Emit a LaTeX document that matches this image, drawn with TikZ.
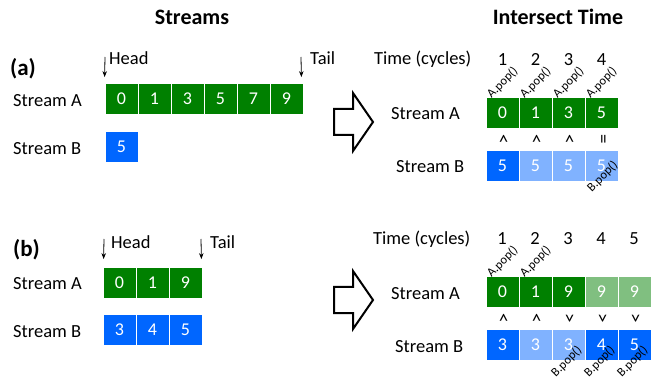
\documentclass[tikz,border=0pt]{standalone}
\usepackage{fontspec}
\setmainfont{Carlito}
\usetikzlibrary{arrows.meta,calc}
\definecolor{sgreen}{RGB}{0,128,0}
\definecolor{sblue}{RGB}{0,102,255}
\tikzset{
  cell/.style={rectangle,draw=white,line width=0.8pt,minimum width=33pt,minimum height=31pt,inner sep=0pt,text=white,font=\fontsize{18}{20}\selectfont},
  acell/.style={cell,fill=sgreen},
  afade/.style={cell,fill=sgreen!50},
  bcell/.style={cell,fill=sblue},
  bfade/.style={cell,fill=sblue!50},
  lbl/.style={inner sep=0pt,font=\fontsize{18.5}{22}\selectfont},
  ttl/.style={inner sep=0pt,font=\bfseries\fontsize{22}{26}\selectfont},
  part/.style={inner sep=0pt,font=\bfseries\fontsize{23}{27}\selectfont},
  popl/.style={rotate=45,inner sep=0pt,font=\fontsize{12.5}{14}\selectfont},
  cmp/.style={rotate=-90,inner sep=0pt,font=\fontsize{19}{20}\selectfont},
  ptr/.style={-{Stealth[length=6pt,width=4.5pt]},line width=0.8pt},
  bigarrow/.style={line width=2pt,fill=white,line join=miter},
}

\begin{document}
\begin{tikzpicture}[x=1pt,y=-1pt]
\useasboundingbox (0,0) rectangle (653,379);
%%%%% titles %%%%%
\node[ttl,anchor=base] (tstreams) at (192,25) {Streams};
\node[ttl,anchor=base] (tinter) at (558,25) {Intersect Time};

%%%%% (a) streams %%%%%
\node[part,anchor=base west] (pa) at (10,76) {(a)};
\node[lbl,anchor=base west] (sla) at (13,107) {Stream A};
\node[lbl,anchor=base west] (slb) at (13,155) {Stream B};
\foreach \v [count=\i] in {0,1,3,5,7,9}
  \node[acell] (la\i) at (88.5+33*\i,98.5) {\v};
\node[bcell] (lb1) at (121.5,146.5) {5};
\node[lbl,anchor=base west] (hda) at (109,65) {Head};
\node[lbl,anchor=base west] (tla) at (310,65) {Tail};
\coordinate (hdpa) at (105,57);
\coordinate (tlpa) at (301,57);
\draw[ptr] (hdpa) -- ($(la1.north west)+(0,-5.5)$);
\draw[ptr] (tlpa) -- ($(la6.north east)+(-2,-5.5)$);

%%%%% (a) intersect %%%%%
\node[lbl,anchor=base west] (tma) at (374,65) {Time (cycles)};
\node[lbl,anchor=base west] (sra) at (391,120) {Stream A};
\node[lbl,anchor=base west] (srb) at (396,173) {Stream B};
\foreach \v [count=\i] in {0,1,3,5}
  \node[acell] (ra\i) at (469.5+33*\i,112.5) {\v};
\node[bcell] (rb1) at (502.5,165.5) {5};
\foreach \i in {2,3,4}
  \node[bfade] (rb\i) at (469.5+33*\i,165.5) {5};
\foreach \i in {1,...,4}{
  \node[lbl,anchor=base] (na\i) at (469.5+33*\i,66) {\i};
  \node[popl] (apa\i) at ($(ra\i.north)+(0,-14)$) {A.pop()};
}
\foreach \c [count=\i] in {<,<,<,=}
  \node[cmp] (ca\i) at ($(ra\i.south)!0.5!(rb\i.north)$) {\c};
\node[popl] (bpa4) at ($(rb4.south)+(1,-5)$) {B.pop()};

%%%%% (b) streams %%%%%
\node[part,anchor=base west] (pb) at (13,257) {(b)};
\node[lbl,anchor=base west] (slc) at (13,290) {Stream A};
\node[lbl,anchor=base west] (sld) at (13,337) {Stream B};
\foreach \v [count=\i] in {0,1,9}
  \node[acell] (lc\i) at (86.5+33*\i,282.5) {\v};
\foreach \v [count=\i] in {3,4,5}
  \node[bcell] (ld\i) at (86.5+33*\i,330) {\v};
\node[lbl,anchor=base west] (hdb) at (111,249) {Head};
\node[lbl,anchor=base west] (tlb) at (210,249) {Tail};
\coordinate (hdpb) at (104,239);
\coordinate (tlpb) at (201,239);
\draw[ptr] (hdpb) -- ($(lc1.north west)+(1,-7.5)$);
\draw[ptr] (tlpb) -- ($(lc3.north east)+(-1,-7.5)$);

%%%%% (b) intersect %%%%%
\node[lbl,anchor=base west] (tmb) at (373,245) {Time (cycles)};
\node[lbl,anchor=base west] (src) at (391,299) {Stream A};
\node[lbl,anchor=base west] (srd) at (395,352) {Stream B};
\node[acell] (rc1) at (502.5,291.5) {0};
\node[acell] (rc2) at (535.5,291.5) {1};
\node[acell] (rc3) at (568.5,291.5) {9};
\node[afade] (rc4) at (601.5,291.5) {9};
\node[afade] (rc5) at (634.5,291.5) {9};
\node[bcell] (rd1) at (502.5,344.5) {3};
\node[bfade] (rd2) at (535.5,344.5) {3};
\node[bfade] (rd3) at (568.5,344.5) {3};
\node[bcell] (rd4) at (601.5,344.5) {4};
\node[bcell] (rd5) at (634.5,344.5) {5};
\foreach \i in {1,...,5}
  \node[lbl,anchor=base] (nb\i) at (469+33*\i,245) {\i};
\foreach \c [count=\i] in {<,<,>,>,>}
  \node[cmp] (cb\i) at ($(rc\i.south)!0.5!(rd\i.north)$) {\c};
\foreach \i in {1,2}
  \node[popl] (apb\i) at ($(rc\i.north)+(0,-14)$) {A.pop()};
\foreach \i in {3,4,5}
  \node[popl] (bpb\i) at ($(rd\i.south)+(-2,1)$) {B.pop()};

%%%%% big arrows %%%%%
\foreach \ty in {122,300}
  \draw[bigarrow] (334,\ty-13) -- (353,\ty-13) -- (353,\ty-29) -- (373,\ty)
    -- (353,\ty+29) -- (353,\ty+13) -- (334,\ty+13) -- cycle;
\end{tikzpicture}
\end{document}
